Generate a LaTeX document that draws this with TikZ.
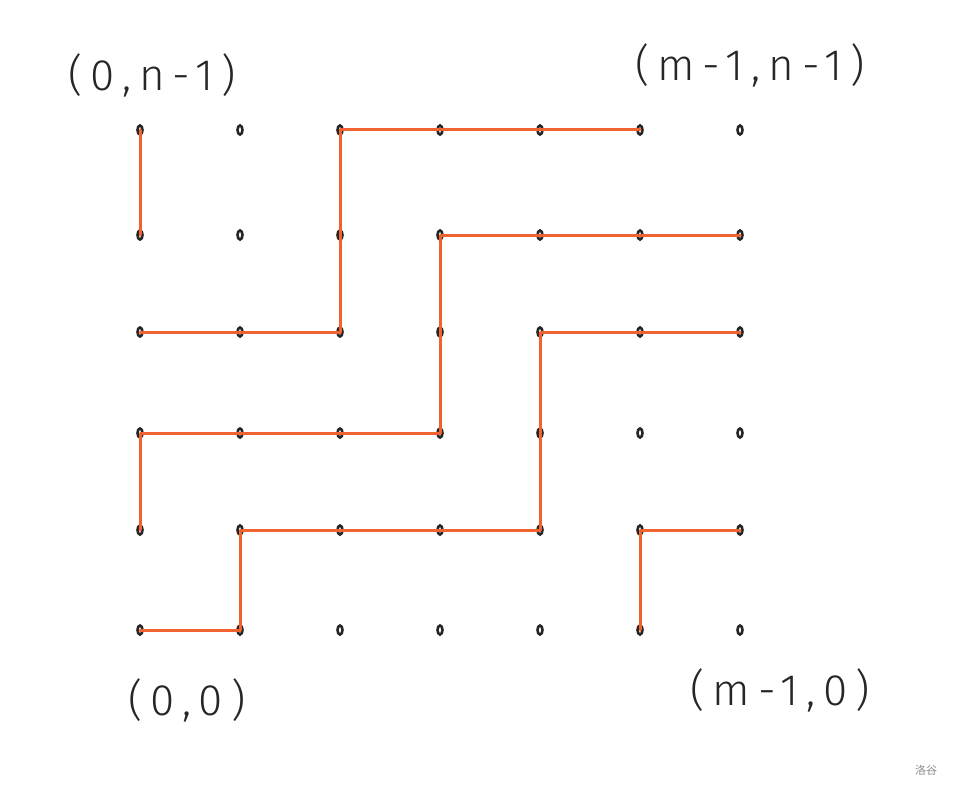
\documentclass[tikz,border=0pt]{standalone}
\usepackage{fontspec}
\usetikzlibrary{shapes.geometric}
\setmainfont{Fira Sans Light}[BoldFont=Fira Sans,LetterSpace=18]
\newfontfamily\cjk{Noto Sans CJK SC}
\definecolor{pathorange}{HTML}{F0622F}
\begin{document}
\begin{tikzpicture}[x=1pt,y=-1pt,
  dot/.style={ellipse,draw=black!85,line width=2.6pt,minimum width=5pt,minimum height=9pt,inner sep=0pt},
  route/.style={draw=pathorange,line width=3pt,line cap=round,line join=round},
  corner/.style={font=\fontsize{44}{48}\selectfont,text=black!85}]
\useasboundingbox (0,0) rectangle (953,789);
\fill[white] (0,0) rectangle (953,789);
\foreach \i in {0,...,6}{
  \foreach \j/\yy in {0/630,1/530,2/433,3/332,4/235,5/130}{
    \node[dot] (d-\i-\j) at ({140+100*\i},\yy) {};
  }
}
% routes
\draw[route] (d-0-5.center) -- (d-0-4.center);
\draw[route] (d-0-3.center) -- (d-2-3.center) -- (d-2-5.center) -- (d-5-5.center);
\draw[route] (d-0-1.center) -- (d-0-2.center) -- (d-3-2.center) -- (d-3-4.center) -- (d-6-4.center);
\draw[route] (d-0-0.center) -- (d-1-0.center) -- (d-1-1.center) -- (d-4-1.center) -- (d-4-3.center) -- (d-6-3.center);
\draw[route] (d-5-0.center) -- (d-5-1.center) -- (d-6-1.center);
% labels
\node[corner] (l1) at (152,75) {(0,n-1)};
\node[corner] (l2) at (750,65) {(m-1,n-1)};
\node[corner] (l3) at (187,700) {(0,0)};
\node[corner] (l4) at (780,690) {(m-1,0)};
\node[font=\cjk\fontsize{11}{12}\selectfont,text=black!45] (wm) at (926,770) {洛谷};
\end{tikzpicture}
\end{document}
